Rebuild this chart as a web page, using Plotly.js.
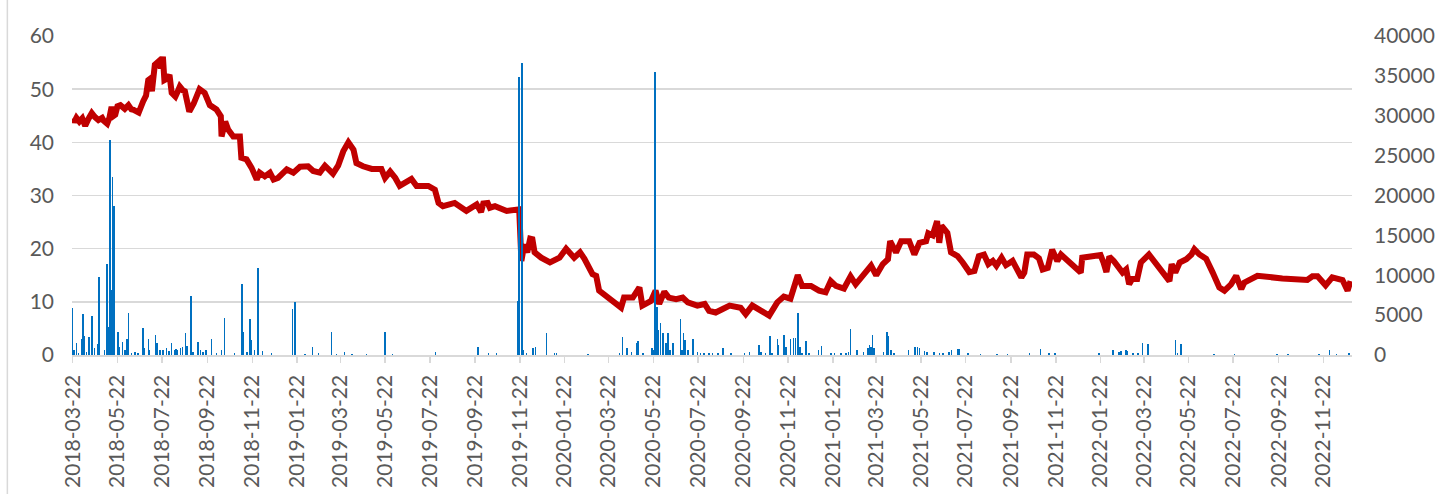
<!DOCTYPE html>
<html>
<head>
<meta charset="utf-8">
<script src="https://cdn.plot.ly/plotly-3.0.1.min.js"></script>
<style>
html,body{margin:0;padding:0;background:#fff;}
#chart{width:1443px;height:494px;}
</style>
</head>
<body>
<div id="chart"></div>
<script>
// Price line (left axis)
const priceDates = [
"2018-03-22","2018-03-24","2018-03-27","2018-03-31","2018-04-04","2018-04-08","2018-04-12","2018-04-17","2018-04-21","2018-04-26",
"2018-05-01","2018-05-03","2018-05-08","2018-05-11","2018-05-14","2018-05-17","2018-05-19","2018-05-22","2018-05-26","2018-06-01",
"2018-06-06","2018-06-10","2018-06-13","2018-06-20","2018-06-26","2018-06-30","2018-07-03","2018-07-06","2018-07-08","2018-07-12",
"2018-07-17","2018-07-20","2018-07-23","2018-07-25","2018-07-29","2018-08-01","2018-08-04","2018-08-09","2018-08-12","2018-08-15",
"2018-08-19","2018-08-22","2018-08-28","2018-09-03","2018-09-11","2018-09-18","2018-09-25","2018-10-04","2018-10-10","2018-10-11",
"2018-10-16","2018-10-20","2018-10-27","2018-11-05","2018-11-07","2018-11-14","2018-11-21","2018-11-25","2018-11-28","2018-12-02",
"2018-12-09","2018-12-16","2018-12-21","2018-12-27","2019-01-08","2019-01-17","2019-01-26","2019-02-06","2019-02-13","2019-02-22",
"2019-03-01","2019-03-12","2019-03-19","2019-03-26","2019-04-02","2019-04-09","2019-04-13","2019-04-22","2019-05-04","2019-05-17",
"2019-05-22","2019-05-29","2019-06-05","2019-06-11","2019-06-27","2019-07-04","2019-07-20","2019-07-29","2019-08-03","2019-08-09",
"2019-08-25","2019-09-10","2019-09-24","2019-09-30","2019-10-03","2019-10-09","2019-10-12","2019-10-19","2019-11-04","2019-11-21",
"2019-11-24","2019-11-28","2019-12-02","2019-12-06","2019-12-09","2019-12-12","2019-12-21","2020-01-02","2020-01-15","2020-01-24",
"2020-02-04","2020-02-12","2020-02-18","2020-02-29","2020-03-05","2020-03-09","2020-03-25","2020-04-08","2020-04-12","2020-04-24",
"2020-05-03","2020-05-07","2020-05-19","2020-05-25","2020-05-30","2020-06-06","2020-06-12","2020-06-22","2020-07-01","2020-07-08",
"2020-07-21","2020-07-31","2020-08-06","2020-08-15","2020-08-24","2020-09-03","2020-09-18","2020-09-25","2020-10-04","2020-10-16",
"2020-10-27","2020-11-07","2020-11-16","2020-11-25","2020-12-05","2020-12-11","2020-12-23","2021-01-03","2021-01-12","2021-01-19",
"2021-01-26","2021-02-06","2021-02-15","2021-02-22","2021-03-03","2021-03-15","2021-03-22","2021-03-31","2021-04-07","2021-04-10",
"2021-04-18","2021-04-25","2021-05-06","2021-05-13","2021-05-20","2021-05-29","2021-06-01","2021-06-07","2021-06-13","2021-06-16",
"2021-06-19","2021-06-27","2021-07-02","2021-07-11","2021-07-18","2021-07-27","2021-08-03","2021-08-09","2021-08-16","2021-08-22",
"2021-08-28","2021-09-02","2021-09-09","2021-09-15","2021-09-24","2021-10-06","2021-10-10","2021-10-14","2021-10-23","2021-10-30",
"2021-11-04","2021-11-11","2021-11-17","2021-11-24","2021-11-29","2021-12-12","2021-12-26","2021-12-28","2022-01-15","2022-01-22",
"2022-01-26","2022-01-30","2022-02-03","2022-02-09","2022-02-21","2022-02-26","2022-03-02","2022-03-06","2022-03-13","2022-03-18",
"2022-03-29","2022-04-10","2022-04-26","2022-04-29","2022-05-04","2022-05-10","2022-05-19","2022-05-26","2022-05-30","2022-06-06",
"2022-06-15","2022-06-24","2022-07-03","2022-07-10","2022-07-19","2022-07-26","2022-08-02","2022-08-06","2022-08-24","2022-09-27",
"2022-10-31","2022-11-07","2022-11-14","2022-11-25","2022-12-04","2022-12-18","2022-12-25","2022-12-29"
];
const priceValues = [
44.5,43.8,44.6,43.9,44.5,43.1,44.3,45.5,44.8,44.2,
44.6,44.1,43.5,44.6,46.7,45.0,45.2,46.8,47.0,46.3,
47.0,46.2,46.1,45.6,47.7,48.8,51.7,52.0,49.6,54.6,
55.2,54.0,56.1,51.7,52.0,52.7,49.3,48.6,49.5,50.5,
49.8,49.6,45.8,47.3,50.0,49.3,47.0,46.2,44.9,41.1,
43.9,42.4,41.1,41.1,37.1,36.8,35.2,34.0,33.0,34.3,
33.6,34.3,33.0,33.3,34.9,34.3,35.4,35.5,34.6,34.3,
35.6,34.1,35.6,38.3,40.0,38.6,36.1,35.5,35.0,35.0,
33.3,34.5,33.3,31.8,33.1,31.8,31.8,31.1,28.6,28.0,
28.6,27.1,28.3,26.9,28.5,28.6,27.7,28.0,27.1,27.4,
17.7,20.8,19.3,21.9,21.8,19.3,18.3,17.4,18.3,20.0,
18.3,19.3,18.1,15.2,14.9,12.1,10.5,8.9,10.8,10.8,
12.7,9.3,10.2,12.1,9.6,11.9,10.8,10.5,10.8,9.9,
9.3,9.6,8.3,8.0,8.6,9.3,8.9,7.7,9.3,8.3,
7.4,9.9,11.0,10.6,15.0,13.0,13.0,12.1,11.8,13.9,
13.0,12.5,14.8,13.3,14.9,16.8,15.0,17.1,18.0,21.4,
19.3,21.4,21.4,18.9,21.1,21.4,22.9,22.5,25.2,21.1,
24.3,23.0,19.3,18.6,17.4,15.6,15.8,18.6,18.9,17.1,
17.7,16.8,18.3,16.9,17.7,14.6,15.5,18.9,18.9,18.2,
16.1,16.4,19.8,17.7,18.9,17.4,15.5,18.3,18.5,18.8,
17.4,15.6,18.5,17.7,15.5,16.1,13.3,14.3,14.3,17.4,
18.9,16.8,13.9,17.1,15.5,17.4,18.0,18.9,19.9,18.9,
18.1,15.5,12.7,12.1,13.3,14.9,12.4,13.6,14.9,14.4,
14.1,14.8,14.8,13.1,14.6,14.1,12.1,13.9
];

// Volume bars (right axis)
const volDates = [
"2018-03-22","2018-03-24","2018-03-27","2018-03-30","2018-04-03","2018-04-05","2018-04-07","2018-04-10","2018-04-13","2018-04-14",
"2018-04-17","2018-04-21","2018-04-25","2018-04-27","2018-05-04","2018-05-08","2018-05-10","2018-05-12","2018-05-14","2018-05-15",
"2018-05-17","2018-05-18","2018-05-23","2018-05-25","2018-05-29","2018-06-01","2018-06-04","2018-06-06","2018-06-10","2018-06-15",
"2018-06-19","2018-06-26","2018-06-28","2018-07-03","2018-07-05","2018-07-13","2018-07-15","2018-07-19","2018-07-23","2018-07-28",
"2018-07-31","2018-08-04","2018-08-08","2018-08-10","2018-08-12","2018-08-16","2018-08-19","2018-08-23","2018-08-25","2018-08-30",
"2018-09-02","2018-09-09","2018-09-12","2018-09-16","2018-09-20","2018-09-27","2018-10-04","2018-10-11","2018-10-15","2018-10-29",
"2018-11-08","2018-11-10","2018-11-15","2018-11-19","2018-11-21","2018-11-25","2018-11-30","2018-12-06","2018-12-18","2019-01-16",
"2019-01-19","2019-01-20","2019-02-02","2019-02-12","2019-02-20","2019-03-10","2019-03-17","2019-03-28","2019-04-07","2019-04-27",
"2019-05-22","2019-06-01","2019-07-30","2019-09-26","2019-10-10","2019-10-21","2019-11-19","2019-11-21","2019-11-25","2019-11-27",
"2019-12-01","2019-12-10","2019-12-13","2019-12-28","2020-01-08","2020-01-11","2020-02-23","2020-03-10","2020-04-06","2020-04-10",
"2020-04-16","2020-04-22","2020-04-29","2020-05-01","2020-05-08","2020-05-20","2020-05-22","2020-05-24","2020-05-25","2020-05-27",
"2020-05-29","2020-06-01","2020-06-04","2020-06-08","2020-06-11","2020-06-14","2020-06-18","2020-06-28","2020-06-30","2020-07-02",
"2020-07-04","2020-07-08","2020-07-15","2020-07-21","2020-07-25","2020-07-30","2020-08-06","2020-08-11","2020-08-18","2020-08-25",
"2020-09-05","2020-09-23","2020-09-30","2020-10-13","2020-10-16","2020-10-22","2020-10-28","2020-10-31","2020-11-07","2020-11-09",
"2020-11-16","2020-11-19","2020-11-25","2020-11-29","2020-12-02","2020-12-05","2020-12-08","2020-12-11","2020-12-16","2020-12-20",
"2021-01-02","2021-01-06","2021-01-19","2021-01-24","2021-02-02","2021-02-09","2021-02-12","2021-02-15","2021-02-24","2021-03-05",
"2021-03-11","2021-03-13","2021-03-15","2021-03-17","2021-03-19","2021-04-01","2021-04-06","2021-04-08","2021-04-11","2021-04-15",
"2021-05-05","2021-05-14","2021-05-17","2021-05-20","2021-05-27","2021-05-30","2021-06-09","2021-06-16","2021-06-21","2021-06-29",
"2021-07-03","2021-07-11","2021-07-13","2021-07-25","2021-08-11","2021-09-03","2021-09-17","2021-10-17","2021-11-01","2021-11-13",
"2021-11-21","2022-01-20","2022-02-08","2022-02-16","2022-02-19","2022-02-26","2022-02-28","2022-03-07","2022-03-14","2022-03-20",
"2022-03-28","2022-05-04","2022-05-07","2022-05-12","2022-06-26","2022-07-24","2022-09-20","2022-10-05","2022-11-16","2022-11-30",
"2022-12-10","2022-12-27"
];
const volValues = [
5850,600,1550,300,1960,5140,2380,400,2200,2300,
4890,840,1380,9740,600,11400,3550,26960,8150,22360,
18680,840,2880,960,1670,600,1960,5220,300,400,
300,3340,840,1960,600,2500,1550,600,600,840,
500,1460,600,700,600,840,960,2720,1130,7400,
400,1670,600,400,600,2000,200,600,4680,200,
8900,2930,400,4510,1880,600,10870,500,300,5730,
6690,600,100,960,200,2840,100,420,100,100,
2930,150,420,1050,200,200,6800,34800,36660,600,
200,840,1050,2800,200,200,100,50,200,2300,
840,420,1460,1800,200,840,600,35530,15680,6060,
3135,3970,2720,1460,2720,600,1550,4470,600,2800,
1880,600,1960,420,300,300,300,200,200,840,
200,300,420,1250,420,300,2380,200,1960,1250,
2500,1050,1960,2090,2090,5220,1050,200,1800,200,
630,1130,300,300,200,300,420,3220,630,420,
840,1250,1050,2500,840,420,2930,2380,630,300,
630,1050,1050,840,540,420,420,300,200,420,
630,700,700,200,100,100,100,200,700,200,
300,200,630,420,540,630,540,200,200,1460,
1380,1880,200,1380,100,100,100,100,100,630,
100,200
];

const xTickStart = "2018-03-22";
const xRange = ["2018-03-21", "2022-12-31"];

const tickFont = {family: "Lato, 'Open Sans', sans-serif", size: 21, color: "#595959"};

const traces = [
  {
    type: "bar",
    x: volDates,
    y: volValues,
    yaxis: "y2",
    width: 2 * 86400000,
    marker: {color: "#0070C0", line: {width: 0}},
    hoverinfo: "x+y",
    showlegend: false
  },
  {
    type: "scatter",
    mode: "lines",
    x: priceDates,
    y: priceValues,
    yaxis: "y",
    line: {color: "#C00000", width: 6, shape: "linear"},
    showlegend: false
  }
];

const layout = {
  width: 1443,
  height: 494,
  margin: {l: 72, r: 91, t: 36, b: 139},
  paper_bgcolor: "#ffffff",
  plot_bgcolor: "#ffffff",
  bargap: 0,
  showlegend: false,
  xaxis: {
    type: "date",
    range: xRange,
    tick0: xTickStart,
    dtick: "M2",
    tickformat: "%Y-%m-%d",
    tickangle: -90,
    tickfont: tickFont,
    ticks: "outside",
    ticklen: 6,
    tickwidth: 1.5,
    tickcolor: "#d9d9d9",
    showgrid: false,
    showline: true,
    linecolor: "#d9d9d9",
    linewidth: 1.5,
    zeroline: false,
    ticklabelstandoff: 4
  },
  yaxis: {
    range: [0, 60],
    dtick: 10,
    tick0: 0,
    tickfont: tickFont,
    showgrid: true,
    gridcolor: "#d9d9d9",
    gridwidth: 1.5,
    zeroline: false,
    showline: false,
    ticks: "",
    ticklabelstandoff: 17
  },
  yaxis2: {
    range: [0, 40000],
    dtick: 5000,
    tick0: 0,
    tickformat: "d",
    overlaying: "y",
    side: "right",
    tickfont: tickFont,
    showgrid: false,
    zeroline: false,
    showline: false,
    ticks: "",
    ticklabelstandoff: 21
  },
  shapes: [
    {type: "line", xref: "paper", yref: "paper", x0: -0.0505, x1: -0.0505, y0: -0.5, y1: 1.2,
     line: {color: "#d9d9d9", width: 1.5}}
  ]
};

Plotly.newPlot("chart", traces, layout, {staticPlot: true, displayModeBar: false});
</script>
</body>
</html>
